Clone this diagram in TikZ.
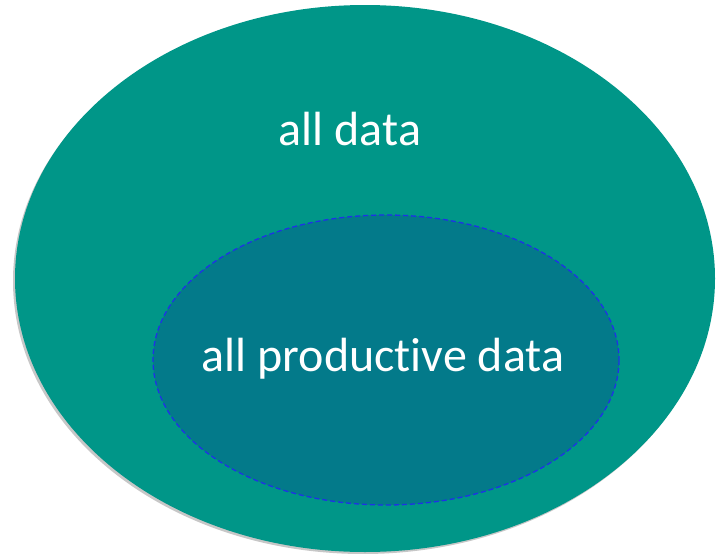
\documentclass[tikz,border=0pt]{standalone}
\usepackage{fontspec}
\setmainfont[Ligatures=NoCommon]{Carlito}
\definecolor{outerteal}{RGB}{0,150,136}
\definecolor{innerteal}{RGB}{3,122,138}
\definecolor{dashblue}{RGB}{30,50,230}
\tikzset{
  outerset/.style={fill=outerteal, draw=none},
  shadowset/.style={fill=black!22, draw=none},
  innerset/.style={fill=innerteal, draw=dashblue, line width=1.3pt, dash pattern=on 5pt off 3pt},
  lbl/.style={text=white, font=\fontsize{48}{56}\selectfont, inner sep=0pt}
}
\begin{document}
\begin{tikzpicture}[x=1pt,y=-1pt]
\useasboundingbox (0,0) rectangle (718,554);
\fill[shadowset] (363,281) ellipse [x radius=350, y radius=273];
\fill[outerset] (365,278.5) ellipse [x radius=350, y radius=273.5];
\node[lbl] (alldata) at (350,129) {all data};
\draw[innerset] (386,360) ellipse [x radius=233, y radius=145];
\node[lbl] (prod) at (383,359) {all productive data};
\end{tikzpicture}
\end{document}
